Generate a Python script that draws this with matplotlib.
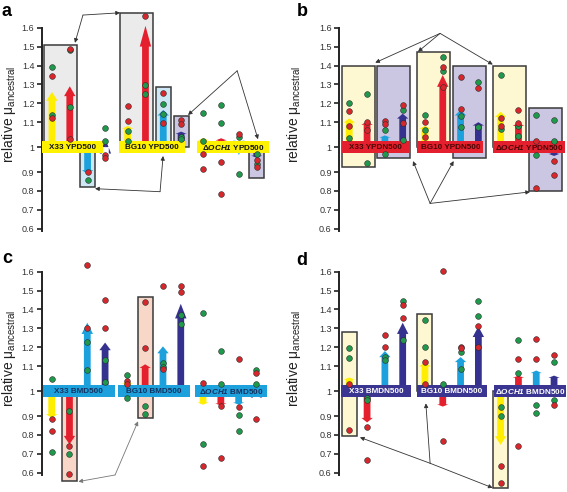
import numpy as np
import matplotlib
matplotlib.use('Agg')
import matplotlib.pyplot as plt
from matplotlib.patches import Rectangle

plt.rcParams['font.family'] = ['Liberation Sans', 'DejaVu Sans']
plt.rcParams['mathtext.fontset'] = 'custom'
plt.rcParams['mathtext.rm'] = 'Liberation Sans'
plt.rcParams['mathtext.it'] = 'Liberation Sans:italic'
plt.rcParams['mathtext.bf'] = 'Liberation Sans:bold'
plt.rcParams['mathtext.bfit'] = 'Liberation Sans:italic:bold'

# ---- data (relative mu vs ancestral), 3 strains x 4 series per panel ----
series_colors = ['#ffee00', '#e5202e', '#1da1dc', '#35318f']

a_bars = [1.26, 1.29, 0.89, 1.01, 1.08, 1.61, 1.165, 1.05, 1.015, 1.015, 0.99, 0.975]
a_green = [[1.39, 1.14], [1.48, 1.18], [0.86], [1.068, 1.003], [1.055, 1.003], [1.297, 1.25],
           [1.195, 1.145], [1.024, 1.012], [1.148, 1.003], [1.19, 1.095], [1.02, 0.89], [0.995, 0.945]]
a_red = [[1.345, 1.12], [1.485, 1.01], [0.90], [0.99, 0.975], [1.183, 1.104], [1.66],
         [1.257, 1.095], [1.109, 1.091], [0.997, 0.916], [0.952, 0.784], [1.038], [0.965, 0.925]]

b_bars = [1.12, 1.105, 1.03, 1.145, 1.08, 1.35, 1.165, 1.10, 1.155, 1.098, 0.99, 0.985]
b_green = [[1.2, 1.015], [1.248, 0.95], [1.06, 0.993], [1.165, 1.005], [1.139, 1.06], [1.447, 1.373],
           [1.133, 1.077], [1.315, 1.077], [1.35, 1.063], [1.08, 1.028], [1.139, 0.99], [1.109, 1.003]]
b_red = [[1.16, 1.082], [1.10, 1.056], [1.104, 1.09], [1.19, 1.098], [1.10, 1.019], [1.394, 1.285],
         [1.338, 1.169], [1.283], [1.121, 1.08], [1.165, 1.098], [1.003, 0.815], [0.956, 0.884]]

c_bars = [0.89, 0.75, 1.33, 1.225, 1.02, 1.11, 1.205, 1.43, 0.96, 0.955, 0.96, 1.01]
c_green = [[1.033, 0.712], [0.925, 0.70], [1.227, 1.081], [1.135, 1.016], [1.054, 0.997], [0.952, 0.913],
           [1.118, 1.095], [1.37, 1.324], [1.38, 0.753], [1.18, 1.003], [0.905, 0.82], [1.082, 1.003]]
c_red = [[0.884, 0.82], [0.739, 0.592], [1.637, 1.302], [1.452, 1.302], [1.019, 1.003], [1.441, 1.197],
         [1.523, 1.083], [1.523, 1.49], [1.01, 0.634], [0.955, 0.679], [1.14, 0.947], [1.063, 0.883]]

d_bars = [1.04, 0.866, 1.18, 1.33, 1.12, 0.95, 1.148, 1.31, 0.748, 1.05, 1.077, 1.05]
d_green = [[1.197, 1.142], [0.997, 0.983], [1.151, 1.135], [1.443, 1.239], [1.346, 1.2], [1.003],
           [1.177, 1.086], [1.447, 1.366], [0.947, 0.898], [1.241, 1.065], [0.96, 0.916], [1.121, 0.983]]
d_red = [[1.003, 0.824], [0.842, 0.667], [1.267, 1.204], [1.426, 1.355], [1.121, 1.003], [1.603, 0.766],
         [1.204, 1.195], [1.315, 1.204], [0.634, 0.544], [1.139, 0.744], [1.244, 1.139], [1.157, 0.96]]

strains = ['X33', 'BG10', r'Δ$\mathbfit{OCH1}$']
media = ['YPD500', 'YPDN500', 'BMD500', 'BMDN500']

# highlighted boxes: (first bar, last bar, bottom, top, fill)
GREY, LBLUE, LAV, LYEL, PEACH = '#ebebeb', '#cde8f4', '#cbc7e3', '#fdf8d2', '#f8d6c8'
a_boxes = [(0, 1, 1.0, 1.51, GREY), (2, 2, 0.82, 1.0, LBLUE), (4, 5, 1.0, 1.68, GREY),
           (6, 6, 1.0, 1.288, LBLUE), (7, 7, 1.0, 1.133, LAV), (11, 11, 0.866, 1.0, LAV)]
b_boxes = [(0, 1, 0.929, 1.40, LYEL), (2, 3, 0.974, 1.40, LAV), (4, 5, 1.0, 1.473, LYEL),
           (6, 7, 0.974, 1.40, LAV), (8, 9, 1.0, 1.40, LYEL), (10, 11, 0.80, 1.177, LAV)]
c_boxes = [(1, 1, 0.558, 1.0, PEACH), (5, 5, 0.887, 1.468, PEACH)]
d_boxes = [(0, 0, 0.793, 1.283, LYEL), (4, 4, 1.0, 1.377, LYEL), (8, 8, 0.517, 1.0, LYEL)]

# connector arrows: apex -> list of targets
a_links = [((1.74, 1.667), [(1.29, 1.52), (3.82, 1.679)]),
           ((10.4, 1.372), [(7.64, 1.138), (11.57, 1.01)]),
           ((6.07, 0.796), [(6.24, 0.985), (2.42, 0.812)])]
b_links = [((5.1, 1.57), [(1.46, 1.415), (3.86, 1.473), (8.06, 1.405)]),
           ((4.54, 0.734), [(3.58, 0.958), (5.86, 0.958), (10.15, 0.795)])]
c_links = [((3.56, 0.588), [(1.5, 0.553), (4.85, 0.872)])]
d_links = [((4.54, 0.65), [(0.6, 0.787), (4.3, 0.967), (8.05, 0.52)])]

GAP = 0.032


def fwd(v):
    v = np.asarray(v, dtype=float)
    return v + GAP * np.sign(v - 1)


def inv(s):
    s = np.asarray(s, dtype=float)
    return np.where(s > 1 + GAP, s - GAP, np.where(s < 1 - GAP, s + GAP, 1.0))


xs = [g * 4.25 + i for g in range(3) for i in range(4)]


def draw_panel(ax, bars, green, red, boxes, links, band_spans, band_color, text_color,
               medium, label_x, link_color='#333333'):
    ax.set_yscale('function', functions=(fwd, inv))
    ax.set_xlim(-0.56, 12.3)
    ax.set_ylim(0.5, 1.7)

    for i0, i1, lo, hi, fc in boxes:
        ax.add_patch(Rectangle((xs[i0] - 0.42, lo), xs[i1] - xs[i0] + 0.84, hi - lo,
                               facecolor=fc, edgecolor='#3a3a3a', lw=1.1, zorder=1, clip_on=False))

    for i, v in enumerate(bars):
        L = v - 1
        hl = max(0.18 * abs(L), 0.012)
        ax.arrow(xs[i], 1, 0, L, width=0.38, head_width=0.64, head_length=hl,
                 length_includes_head=True, fc=series_colors[i % 4], ec='none',
                 zorder=2, clip_on=False)

    # the strain bands sit in the gap around 1 (drawn in scaled coordinates)
    tr = ax.transLimits + ax.transAxes
    for (x0, x1), s in zip(band_spans, strains):
        ax.add_patch(Rectangle((x0, 1 - GAP), x1 - x0, 2 * GAP, transform=tr,
                               facecolor=band_color, edgecolor='none', zorder=3, clip_on=False))
        ax.text((x0 + x1) / 2, 1, s + ' ' + medium, ha='center', va='center', fontsize=5.9,
                fontweight='bold', color=text_color, zorder=4)

    for i in range(12):
        ax.scatter([xs[i]] * len(green[i]), green[i], s=17, c='#1f9a4c', edgecolors='#2b2b2b',
                   linewidths=0.4, zorder=5, clip_on=False)
        ax.scatter([xs[i]] * len(red[i]), red[i], s=17, c='#d8272c', edgecolors='#2b2b2b',
                   linewidths=0.4, zorder=5, clip_on=False)

    for apex, targets in links:
        for t in targets:
            ax.annotate('', xy=t, xytext=apex, annotation_clip=False,
                        arrowprops=dict(arrowstyle='-|>', color=link_color, lw=0.6,
                                        mutation_scale=6, shrinkA=0, shrinkB=0), zorder=6)

    ticks = [0.6, 0.7, 0.8, 0.9, 1.0, 1.1, 1.2, 1.3, 1.4, 1.5, 1.6]
    ax.set_yticks(ticks)
    ax.set_yticklabels(['1' if t == 1.0 else f'{t:.1f}' for t in ticks])
    ax.minorticks_off()
    ax.set_xticks([])
    for side in ['top', 'right', 'bottom']:
        ax.spines[side].set_visible(False)
    ax.spines['left'].set_bounds(0.59, 1.6)
    ax.spines['left'].set_linewidth(1.4)
    ax.spines['left'].set_color('#222222')
    ax.tick_params(axis='y', direction='out', length=3.5, width=1.2, labelsize=6.5,
                   colors='#222222', labelcolor='#333333', pad=2)
    ax.patch.set_visible(False)
    ax.set_ylabel(r'relative μ$_{\mathregular{ancestral}}$', fontsize=10, color='#222222')
    ax.yaxis.set_label_coords(label_x, 0.56)


fig = plt.figure(figsize=(5.67, 4.92), dpi=100)
W, H = 229 / 567, 238.8 / 492
ax_a = fig.add_axes([42 / 567, 0.4967, W, H])
ax_b = fig.add_axes([339.3 / 567, 0.4967, W, H])
ax_c = fig.add_axes([41.7 / 567, 0.0008, W, H])
ax_d = fig.add_axes([339.3 / 567, 0.0008, W, H])

draw_panel(ax_a, a_bars, a_green, a_red, a_boxes, a_links,
           [(-0.56, 2.87), (3.77, 7.47), (8.15, 12.19)], '#fff200', '#111111', media[0], -0.105)
draw_panel(ax_b, b_bars, b_green, b_red, b_boxes, b_links,
           [(-0.43, 3.41), (3.82, 7.53), (8.09, 12.12)], '#e5202e', '#4a0505', media[1], -0.16)
draw_panel(ax_c, c_bars, c_green, c_red, c_boxes, c_links,
           [(-0.50, 3.54), (3.74, 7.77), (8.05, 12.08)], '#1da1dc', '#16305e', media[2], -0.105,
           link_color='#777777')
draw_panel(ax_d, d_bars, d_green, d_red, d_boxes, d_links,
           [(-0.46, 3.45), (3.79, 7.72), (8.15, 12.18)], '#3a3590', '#ffffff', media[3], -0.16)

for letter, (fx, fy) in zip('abcd', [(2, 3), (297, 3), (2, 250), (296, 252)]):
    fig.text(fx / 567, 1 - fy / 492, letter, fontsize=13, fontweight='bold', va='top', ha='left')

fig.savefig('out.png', dpi=100)
